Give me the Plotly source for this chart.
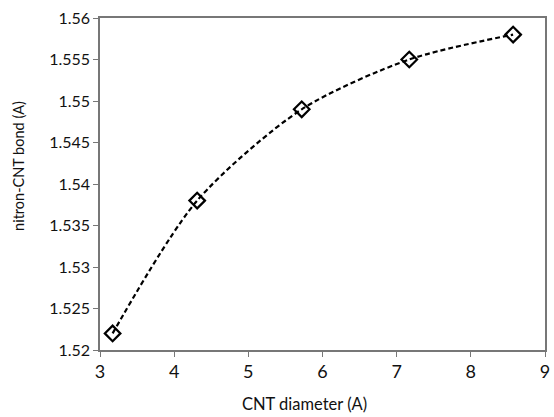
import plotly.graph_objects as go

diameter = [3.17, 4.31, 5.72, 7.17, 8.57]
bond = [1.522, 1.538, 1.549, 1.555, 1.558]
y_ticks = [1.52, 1.525, 1.53, 1.535, 1.54, 1.545, 1.55, 1.555, 1.56]
y_tick_text = ["1.52", "1.525", "1.53", "1.535", "1.54", "1.545", "1.55", "1.555", "1.56"]
x_ticks = [3, 4, 5, 6, 7, 8, 9]
x_title = "CNT diameter (A)"
y_title = "nitron-CNT bond (A)"

font_family = "Lato, Open Sans, sans-serif"
txt_color = "#111"

fig = go.Figure()
fig.add_trace(go.Scatter(
    x=diameter, y=bond, mode="lines+markers",
    line=dict(color="black", width=2.2, dash="5px,3px", shape="spline", smoothing=0.8),
    marker=dict(symbol="diamond-open", size=12, color="black", line=dict(width=2.2, color="black")),
    showlegend=False,
))

fig.update_layout(
    width=554, height=417,
    margin=dict(l=100, r=4, t=18, b=67),
    paper_bgcolor="white", plot_bgcolor="white",
    font=dict(family=font_family, color=txt_color),
    xaxis=dict(
        range=[3, 9], tickvals=x_ticks, ticks="outside", ticklen=5, tickcolor="#777",
        showline=True, linecolor="#777", linewidth=1.5, mirror=True, showgrid=False, zeroline=False,
        tickfont=dict(size=18, family=font_family, color=txt_color),
    ),
    yaxis=dict(
        range=[1.52, 1.56], tickvals=y_ticks, ticktext=y_tick_text, ticks="outside", ticklen=5, tickcolor="#777",
        showline=True, linecolor="#777", linewidth=1.5, mirror=True, showgrid=False, zeroline=False,
        tickfont=dict(size=16, family=font_family, color=txt_color),
    ),
    annotations=[
        dict(text=x_title, xref="paper", yref="paper", x=(307 - 100) / 450, y=-(404 - 350) / 332,
             xanchor="center", yanchor="middle", showarrow=False,
             font=dict(size=16.5, family=font_family, color=txt_color)),
        dict(text=y_title, xref="paper", yref="paper", x=-(100 - 17) / 450, y=(350 - 166) / 332,
             xanchor="center", yanchor="middle", textangle=-90, showarrow=False,
             font=dict(size=14.5, family=font_family, color=txt_color)),
    ],
)
fig.write_html("out.html")
